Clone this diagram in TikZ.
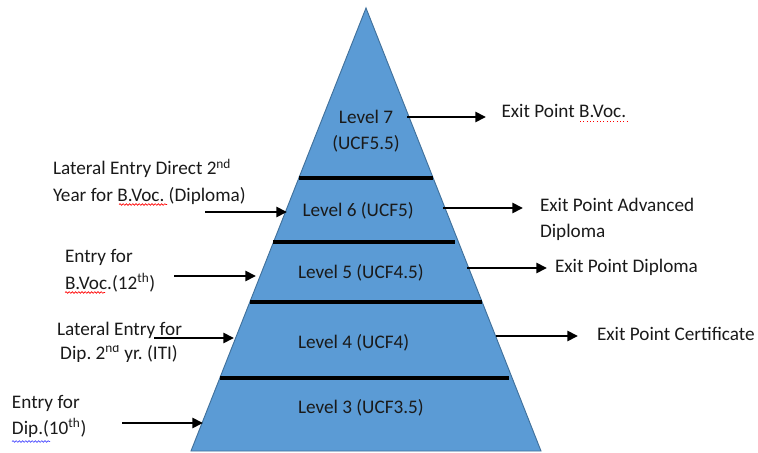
\documentclass[tikz,border=0pt]{standalone}
\usepackage{fontspec}
\setmainfont{Carlito}
\usetikzlibrary{arrows.meta,decorations.pathmorphing}
\definecolor{pyrfill}{HTML}{5B9BD5}
\definecolor{pyrdraw}{HTML}{41719C}
\definecolor{txt}{HTML}{1A1A1A}
\frenchspacing
\begin{document}
\begin{tikzpicture}[x=0.75pt,y=-0.75pt,
  lbl/.style={inner sep=0pt,outer sep=0pt,text=txt,font=\fontsize{14.4}{19}\selectfont\frenchspacing},
  arr/.style={line width=2pt,-{Triangle[length=8pt,width=7.5pt]}},
  sep/.style={line width=2.4pt,black},
  squig/.style={line width=0.5pt,decorate,decoration={snake,amplitude=0.6pt,segment length=2.4pt}}]
\useasboundingbox (0,0) rectangle (758,453);
% pyramid
\coordinate (apex) at (366,8);
\coordinate (bl) at (191,451);
\coordinate (br) at (541,451);
\draw[pyrdraw,fill=pyrfill,line width=0.7pt] (apex) -- (br) -- (bl) -- cycle;
% separators
\draw[sep] (298.7,178) -- (433.3,178);
\draw[sep] (273.4,242) -- (455,242);
\draw[sep] (249.6,302) -- (482.4,302);
\draw[sep] (219.5,378) -- (509,378);
% level labels
\node[lbl,anchor=base] (l7a) at (366,124) {Level 7};
\node[lbl,anchor=base] (l7b) at (366,150) {(UCF5.5)};
\node[lbl,anchor=base west] (l6) at (302.5,217) {Level 6 (UCF5)};
\node[lbl,anchor=base west] (l5) at (298,278) {Level 5 (UCF4.5)};
\node[lbl,anchor=base west] (l4) at (298,348) {Level 4 (UCF4)};
\node[lbl,anchor=base west] (l3) at (298,413) {Level 3 (UCF3.5)};
% exit labels
\node[lbl,anchor=base west] (e7) at (501.5,117.5) {Exit Point B.Voc.};
\node[lbl,anchor=base west] (e6a) at (540,212) {Exit Point Advanced};
\node[lbl,anchor=base west] (e6b) at (540,238) {Diploma};
\node[lbl,anchor=base west] (e5) at (555,272.5) {Exit Point Diploma};
\node[lbl,anchor=base west] (e4) at (597,340.5) {Exit Point Certificate};
% entry labels
\node[lbl,anchor=base west] (n6a) at (53,175) {Lateral Entry Direct 2\textsuperscript{nd}};
\node[lbl,anchor=base west] (n6b) at (53,201.5) {Year for B.Voc. (Diploma)};
\node[lbl,anchor=base west] (n5a) at (65,262.5) {Entry for};
\node[lbl,anchor=base west] (n5b) at (65,289) {B.Voc.(12\textsuperscript{th})};
\node[lbl,anchor=base] (n4a) at (119.5,335) {Lateral Entry for};
\begin{scope}
\clip (0,345) rectangle (300,361);
\node[lbl,anchor=base] (n4b) at (119,359) {Dip. 2\textsuperscript{nd} yr. (ITI)};
\end{scope}
\node[lbl,anchor=base west] (n3a) at (12,408) {Entry for};
\node[lbl,anchor=base west] (n3b) at (12,434.5) {Dip.(10\textsuperscript{th})};
% spell-check marks
\draw[squig,red] (119,204.5) -- (167,204.5);
\draw[squig,red] (65,292.5) -- (105,292.5);
\draw[red,line width=0.5pt,dotted] (580,121) -- (627,121);
\draw[squig,blue!70] (12,441.5) -- (50,441.5);
% arrow coordinates
\coordinate (s7) at (407,117);   \coordinate (t7) at (486,117);
\coordinate (s6) at (443,208);   \coordinate (t6) at (523,208);
\coordinate (s5) at (467,268);   \coordinate (t5) at (547,268);
\coordinate (s4) at (496,336);   \coordinate (t4) at (578,336);
\coordinate (i6) at (205,212);   \coordinate (j6) at (287,212);
\coordinate (i5) at (174,276);   \coordinate (j5) at (256,276);
\coordinate (i4) at (154,338);   \coordinate (j4) at (234,338);
\coordinate (i3) at (122,423);   \coordinate (j3) at (203,423);
\draw[arr] (s7) -- (t7);
\draw[arr] (s6) -- (t6);
\draw[arr] (s5) -- (t5);
\draw[arr] (s4) -- (t4);
\draw[arr] (i6) -- (j6);
\draw[arr] (i5) -- (j5);
\draw[arr] (i4) -- (j4);
\draw[arr] (i3) -- (j3);
\end{tikzpicture}
\end{document}
